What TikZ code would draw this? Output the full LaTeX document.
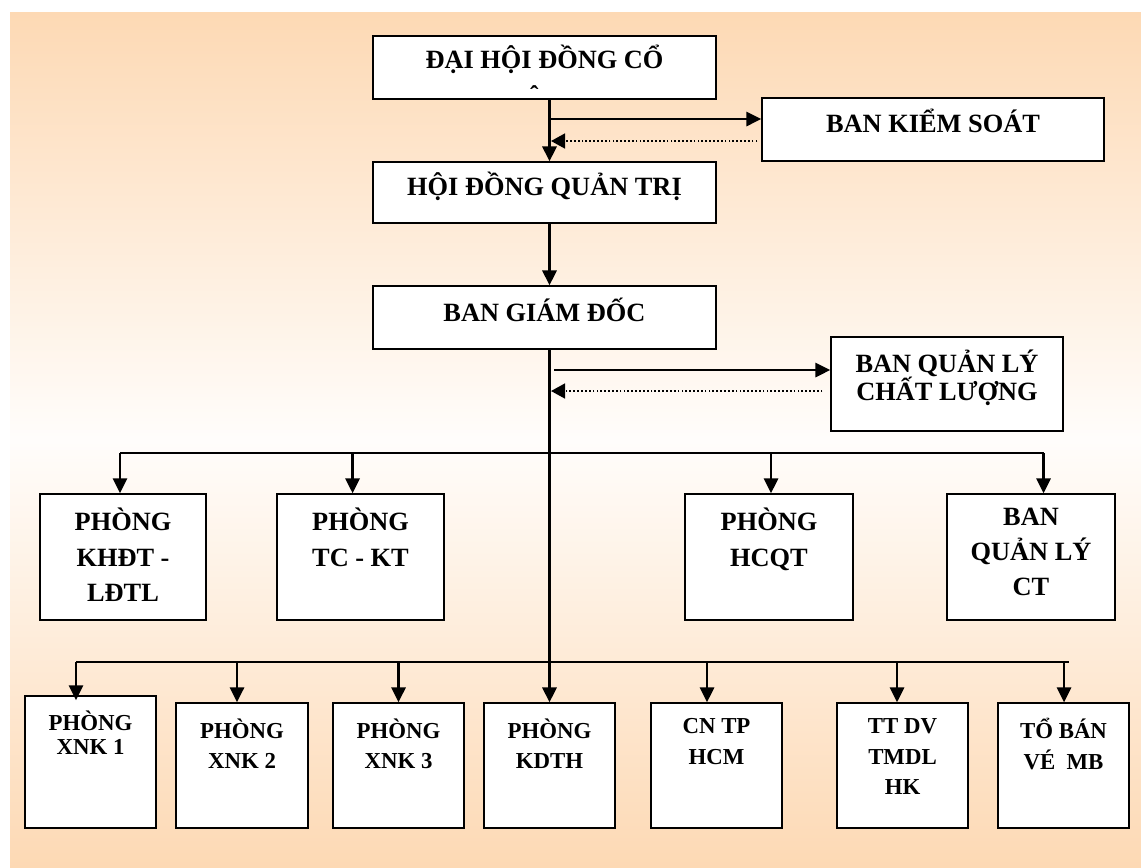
\documentclass[tikz,border=0pt]{standalone}
\usepackage{fontspec}
\setmainfont{Liberation Serif}
\usetikzlibrary{arrows.meta,positioning,fit}
\definecolor{dao}{RGB}{253,217,180}

\begin{document}
\begin{tikzpicture}[x=0.02cm, y=-0.02cm]
\tikzset{hop/.style={draw, fill=white, line width=0.75pt, inner sep=0pt},
  chu/.style={font=\fontsize{15}{20}\selectfont\bfseries, align=center, inner sep=0pt,
    execute at begin node={\rule{0pt}{15pt}}},
  chunho/.style={chu, font=\fontsize{13}{17.5}\selectfont\bfseries},
  mui/.style={line width=1.5pt, -{Triangle[length=8.5pt, width=8pt]}},
  muidut/.style={line width=1.1pt, dash pattern=on 1pt off 1.2pt, -{Triangle[length=8pt, width=8.5pt]}},
  nhanh/.style={line width=0.85pt}}
\useasboundingbox (0,0) rectangle (1141,867);
\fill[white] (0,0) rectangle (1141,867);
\shade[top color=dao, bottom color=dao, middle color=dao!5] (10,12) rectangle (1141,867);

% cac khoi cap tren
\node[hop, fit={(373,36) (716,99)}] (dh) {};
\node[hop, fit={(762,98) (1104,161)}] (bks) {};
\node[hop, fit={(373,162) (716,223)}] (hdqt) {};
\node[hop, fit={(373,286) (716,349)}] (bgd) {};
\node[hop, fit={(831,337) (1063,431)}] (qlcl) {};
% hang phong ban thu nhat
\node[hop, fit={(40,494) (206,620)}] (kh) {};
\node[hop, fit={(277,494) (444,620)}] (tc) {};
\node[hop, fit={(685,494) (853,620)}] (hc) {};
\node[hop, fit={(947,494) (1115,620)}] (qlct) {};
% hang duoi
\node[hop, fit={(25,696) (156,828)}] (xnk1) {};
\node[hop, fit={(176,703) (308,828)}] (xnk2) {};
\node[hop, fit={(333,703) (464,828)}] (xnk3) {};
\node[hop, fit={(484,703) (615,828)}] (kdth) {};
\node[hop, fit={(651,703) (782,828)}] (cn) {};
\node[hop, fit={(837,703) (968,828)}] (tt) {};
\node[hop, fit={(998,703) (1129,828)}] (bv) {};

% chu trong khung (dong thu hai bi cat)
\begin{scope}
\clip (373,36) rectangle (716,88);
\node[chu, font=\fontsize{15}{23}\selectfont\bfseries, below=5.2pt of dh.north] (dh-t) {ĐẠI HỘI ĐỒNG CỔ\\ĐÔNG};
\end{scope}
\node[chu, below=4.8pt of bks.north] (bks-t) {BAN KIỂM SOÁT};
\node[chu, below=4.3pt of hdqt.north] (hdqt-t) {HỘI ĐỒNG QUẢN TRỊ};
\node[chu, below=5.4pt of bgd.north] (bgd-t) {BAN GIÁM ĐỐC};
\node[chu, font=\fontsize{15}{16}\selectfont\bfseries, below=7.5pt of qlcl.north] (qlcl-t) {BAN QUẢN LÝ\\CHẤT LƯỢNG};
\node[chu, below=8.3pt of kh.north] (kh-t) {PHÒNG\\KHĐT -\\LĐTL};
\node[chu, below=8.3pt of tc.north] (tc-t) {PHÒNG\\TC - KT};
\node[chu, below=8.3pt of hc.north] (hc-t) {PHÒNG\\HCQT};
\node[chu, below=8.3pt of qlct.north] (qlct-t) {BAN\\QUẢN LÝ\\CT};
\node[chunho, font=\fontsize{13}{14}\selectfont\bfseries, below=8.4pt of xnk1.north] (xnk1-t) {PHÒNG\\XNK 1};
\node[chunho, below=9pt of xnk2.north] (xnk2-t) {PHÒNG\\XNK 2};
\node[chunho, below=9pt of xnk3.north] (xnk3-t) {PHÒNG\\XNK 3};
\node[chunho, below=9pt of kdth.north] (kdth-t) {PHÒNG\\KDTH};
\node[chunho, below=9pt of cn.north] (cn-t) {CN TP\\HCM};
\node[chunho, below=9pt of tt.north] (tt-t) {TT DV\\TMDL\\HK};
\node[chunho, below=9pt of bv.north] (bv-t) {TỔ BÁN\\VÉ~~MB};

% truc doc chinh
\coordinate (tr) at (549.5,0);
\draw[mui, line width=1.7pt] (dh.south -| tr) -- (hdqt.north -| tr);
\draw[mui, line width=1.7pt] (hdqt.south -| tr) -- (bgd.north -| tr);
\draw[mui, line width=1.7pt] (bgd.south -| tr) -- (kdth.north -| tr);

% bao cao qua lai voi ban kiem soat va ban chat luong
\coordinate (r1) at (549.5,119);
\coordinate (r2) at (551,141);
\coordinate (r3) at (549.5,370);
\coordinate (r4) at (551,391);
\draw[mui] (r1) -- (r1 -| bks.west);
\draw[muidut, shorten <=2.3pt] (r2 -| bks.west) -- (r2);
\draw[mui, shorten <=2.8pt] (r3) -- (r3 -| qlcl.west);
\draw[muidut, shorten <=4.5pt] (r4 -| qlcl.west) -- (r4);

% nhanh xuong cac phong
\coordinate (b1) at (120,453);
\coordinate (b2) at (1043.5,453);
\draw[nhanh] (b1) -- (b2);
\foreach \x/\o in {120/kh, 352.6/tc, 771/hc, 1043.5/qlct}{
  \coordinate (m) at (\x,453);
  \draw[mui] (m) -- (m |- \o.north);
}
\coordinate (c1) at (76,662);
\coordinate (c2) at (1068.5,662);
\draw[nhanh] (c1) -- (c2);
\draw[mui, shorten >=-2.8pt] (c1) -- (c1 |- xnk1.north);
\foreach \x/\o in {237/xnk2, 398.5/xnk3, 707/cn, 897/tt, 1064/bv}{
  \coordinate (m) at (\x,662);
  \draw[mui] (m) -- (m |- \o.north);
}
\end{tikzpicture}
\end{document}
